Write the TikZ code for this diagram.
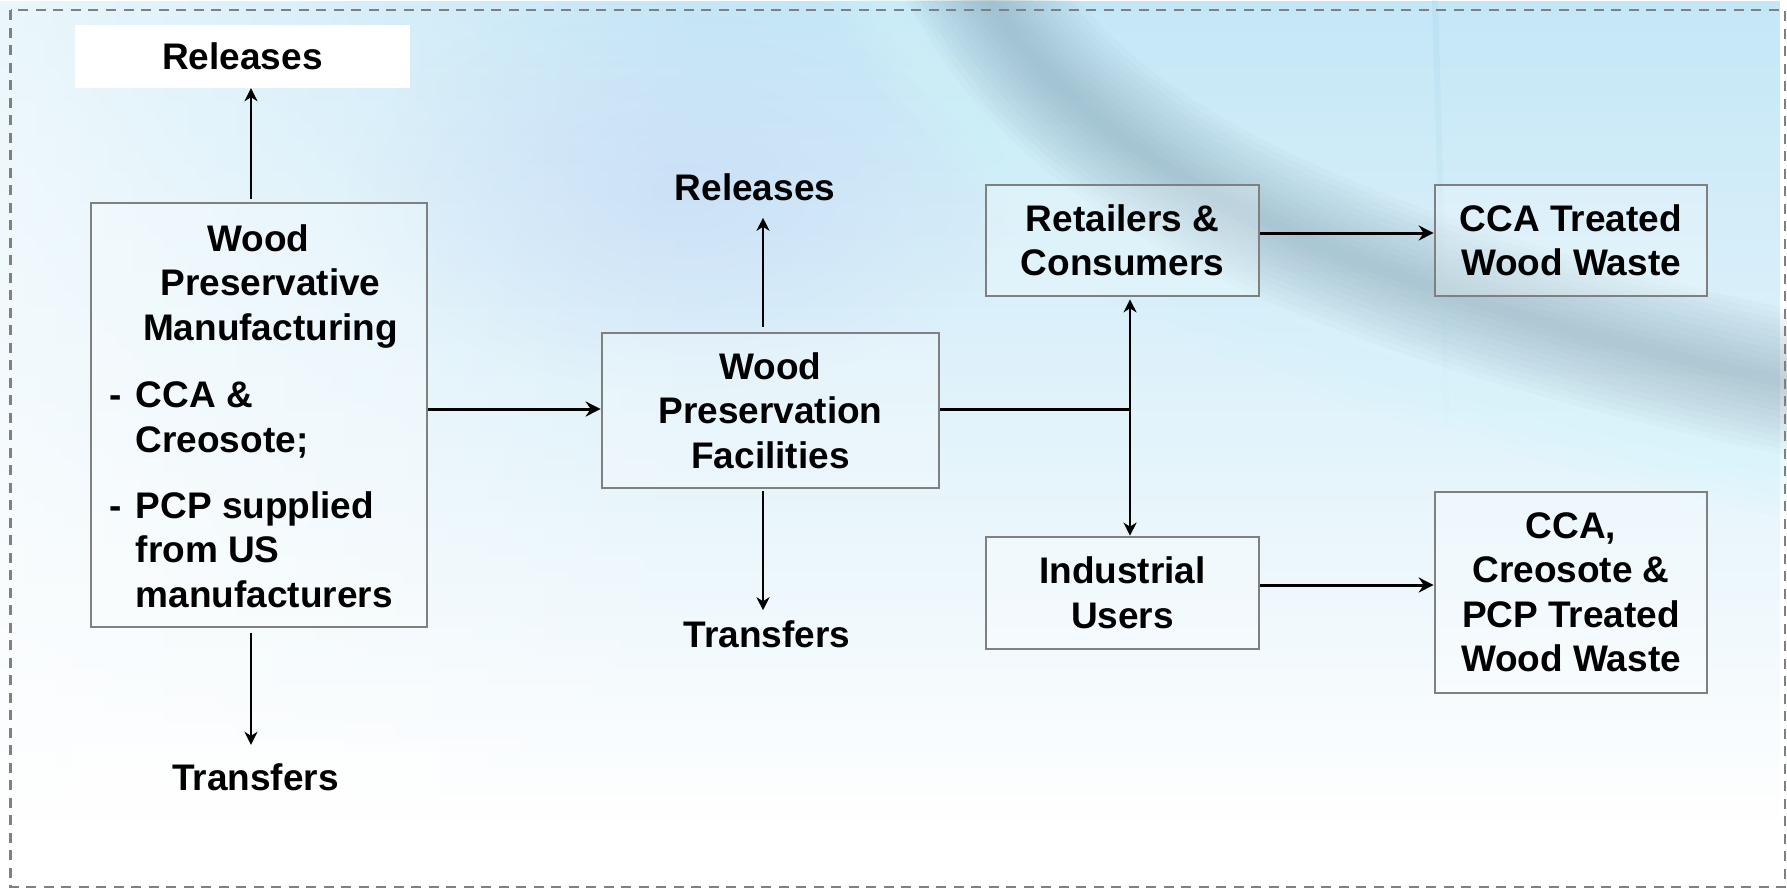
\documentclass[tikz,border=0pt]{standalone}
\usepackage{fontspec}
\setmainfont{Liberation Sans}
\usetikzlibrary{arrows.meta,fadings}
\tikzfading[name=fadedown, top color=transparent!0, bottom color=transparent!100]
\tikzfading[name=faderight, left color=transparent!0, right color=transparent!100]
\tikzfading[name=softcircle, inner color=transparent!0, outer color=transparent!100]
\definecolor{boxgray}{RGB}{128,128,128}
\definecolor{bgblue}{RGB}{196,231,247}
\definecolor{swoosh}{RGB}{120,155,170}
\definecolor{lav}{RGB}{200,216,246}
\definecolor{hlcyan}{RGB}{212,246,252}
\definecolor{streak}{RGB}{150,210,228}
\newcommand\diagfont{\fontsize{37}{44.5}\selectfont\bfseries}
\begin{document}
\begin{tikzpicture}[x=1pt,y=-1pt,
  box/.style={draw=boxgray, line width=2.7pt, fill=white, fill opacity=0.25, text opacity=1,
              align=center, inner sep=0pt, font=\diagfont},
  lbl/.style={inner sep=0pt, align=center, font=\diagfont},
  arr/.style={-{Stealth[length=15pt,width=15pt,inset=5pt]}, line width=3pt, black},
  varr/.style={-{Stealth[length=13pt,width=13pt,inset=4pt]}, line width=2.2pt, black},
  conn/.style={line width=3pt, black},
  border/.style={draw=boxgray, line width=2.2pt, dash pattern=on 10pt off 7.5pt}]
\useasboundingbox (0,0) rectangle (1787,889);
% background
\fill[white] (0,0) rectangle (1787,889);
\fill[bgblue, path fading=fadedown] (0,0) rectangle (1787,820);
\fill[white, opacity=0.65, path fading=faderight] (0,0) rectangle (700,889);
\fill[lav, opacity=0.55, path fading=softcircle] (680,190) ellipse (330pt and 200pt);
\foreach \w in {20,40,...,100}
  \draw[hlcyan, line width=\w pt, opacity=0.12] (860,-40) .. controls (1030,270) and (1250,350) .. (1800,470);
\foreach \w in {12,24,...,144}
  \draw[swoosh, line width=\w pt, opacity=0.045, line join=round] (936,-90) -- (990,0) .. controls (1080,150) and (1300,280) .. (1800,385);
\fill[streak, opacity=0.22, path fading=fadedown] (1432,0) -- (1438,0) -- (1450,430) -- (1444,430) -- cycle;
% nodes
\node[fill=white, minimum width=335pt, minimum height=63pt, inner sep=0pt, font=\diagfont] (relA) at (242.5,56.5) {Releases};
\node[box, minimum width=336pt, minimum height=424pt] (wpm) at (259,415) {};
\node[lbl] (wpmtitle) at (270.5,286.4) {\hspace*{-24pt}Wood\\Preservative\\Manufacturing};
\node[lbl, align=left, anchor=west] (wpmlist) at (109.5,495) {\makebox[26pt][l]{-}CCA \&\\\hspace*{26pt}Creosote;\\[21.5pt]\makebox[26pt][l]{-}PCP supplied\\\hspace*{26pt}from US\\\hspace*{26pt}manufacturers};
\node[fill=white, fill opacity=0.5, text opacity=1, minimum width=365pt, minimum height=64pt, inner sep=0pt, font=\diagfont] (tranA) at (255.5,777) {Transfers};
\node[box, minimum width=337pt, minimum height=155pt] (wpf) at (770.5,410.5) {Wood\\Preservation\\Facilities};
\node[lbl] (relB) at (755,187) {Releases};
\node[lbl] (tranB) at (767,634) {Transfers};
\node[box, minimum width=273pt, minimum height=111pt] (rc) at (1122.5,240.5) {Retailers \&\\Consumers};
\node[box, minimum width=273pt, minimum height=112pt] (ind) at (1122.5,593) {Industrial\\Users};
\node[box, minimum width=272pt, minimum height=111pt] (ccaA) at (1571,240.5) {CCA Treated\\Wood Waste};
\node[box, minimum width=272pt, minimum height=201pt] (ccaB) at (1571,592.5) {CCA,\\Creosote \&\\PCP Treated\\Wood Waste};
\coordinate (jn) at (1130,409);
% connectors
\draw[varr, shorten <=3pt] ([xshift=-8pt]wpm.north) -- ([xshift=-8pt]wpm.north |- relA.south);
\draw[varr, shorten <=5pt] ([xshift=-8pt]wpm.south) -- ([xshift=-8pt]wpm.south |- tranA.north);
\draw[arr] (wpm.east |- jn) -- (wpf.west |- jn);
\draw[varr, shorten <=5pt, shorten >=17pt] ([xshift=-7.5pt]wpf.north) -- ([xshift=-7.5pt]wpf.north |- relB.south);
\draw[varr, shorten <=2pt, shorten >=10pt] ([xshift=-7.5pt]wpf.south) -- ([xshift=-7.5pt]wpf.south |- tranB.north);
\draw[conn] (wpf.east |- jn) -- ([xshift=1.1pt]jn);
\draw[varr, shorten >=2pt] (jn) -- (jn |- rc.south);
\draw[varr] (jn) -- (jn |- ind.north);
\draw[arr] ([yshift=7.5pt]rc.east) -- ([yshift=7.5pt]rc.east -| ccaA.west);
\draw[arr] ([yshift=8pt]ind.east) -- ([yshift=8pt]ind.east -| ccaB.west);
% border
\draw[border] (10.5,10) rectangle (1785,887);
\end{tikzpicture}
\end{document}
